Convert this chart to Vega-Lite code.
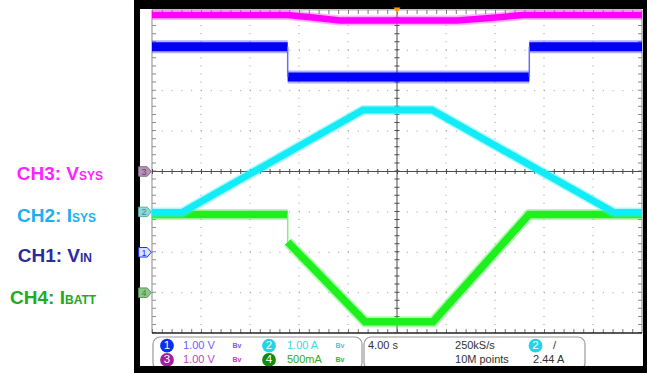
{
  "$schema": "https://vega.github.io/schema/vega-lite/v6.json",
  "width": 647,
  "height": 373,
  "autosize": {"type": "none"},
  "padding": 0,
  "background": "white",
  "config": {"view": {"stroke": null}},
  "datasets": {
    "traces": [
      {"ch": "CH3", "seg": "a", "x": -5, "y": 3.874},
      {"ch": "CH3", "seg": "a", "x": -2.231, "y": 3.874},
      {"ch": "CH3", "seg": "a", "x": -1.714, "y": 3.812},
      {"ch": "CH3", "seg": "a", "x": -1.163, "y": 3.738},
      {"ch": "CH3", "seg": "a", "x": 1.224, "y": 3.738},
      {"ch": "CH3", "seg": "a", "x": 1.898, "y": 3.8},
      {"ch": "CH3", "seg": "a", "x": 2.571, "y": 3.874},
      {"ch": "CH3", "seg": "a", "x": 5, "y": 3.874},
      {"ch": "CH1", "seg": "a", "x": -5, "y": 3.089},
      {"ch": "CH1", "seg": "a", "x": -2.231, "y": 3.089},
      {"ch": "CH1", "seg": "b", "x": -2.231, "y": 2.339},
      {"ch": "CH1", "seg": "b", "x": 2.7, "y": 2.339},
      {"ch": "CH1", "seg": "c", "x": 2.7, "y": 3.089},
      {"ch": "CH1", "seg": "c", "x": 5, "y": 3.089},
      {"ch": "CH4", "seg": "a", "x": -5, "y": -1.064},
      {"ch": "CH4", "seg": "a", "x": -2.231, "y": -1.064},
      {"ch": "CH4", "seg": "b", "x": -2.231, "y": -1.745},
      {"ch": "CH4", "seg": "b", "x": -0.653, "y": -3.718},
      {"ch": "CH4", "seg": "b", "x": 0.735, "y": -3.718},
      {"ch": "CH4", "seg": "b", "x": 2.694, "y": -1.064},
      {"ch": "CH4", "seg": "b", "x": 5, "y": -1.064},
      {"ch": "CH2", "seg": "a", "x": -5, "y": -1.015},
      {"ch": "CH2", "seg": "a", "x": -4.388, "y": -1.015},
      {"ch": "CH2", "seg": "a", "x": -0.694, "y": 1.522},
      {"ch": "CH2", "seg": "a", "x": 0.714, "y": 1.522},
      {"ch": "CH2", "seg": "a", "x": 4.429, "y": -1.015},
      {"ch": "CH2", "seg": "a", "x": 5, "y": -1.015}
    ],
    "steps": [
      {"ch": "CH1", "seg": "s1", "x": -2.231, "y": 3.089},
      {"ch": "CH1", "seg": "s1", "x": -2.231, "y": 2.339},
      {"ch": "CH1", "seg": "s2", "x": 2.7, "y": 2.339},
      {"ch": "CH1", "seg": "s2", "x": 2.7, "y": 3.089},
      {"ch": "CH4", "seg": "s3", "x": -2.231, "y": -1.064},
      {"ch": "CH4", "seg": "s3", "x": -2.231, "y": -1.745}
    ]
  },
  "encoding": {
    "x": {"field": "x", "type": "quantitative", "scale": {"domain": [-8.102, 5.102], "nice": false, "zero": false}, "axis": null},
    "y": {"field": "y", "type": "quantitative", "scale": {"domain": [-4.988, 4.245], "nice": false, "zero": false}, "axis": null}
  },
  "resolve": {"scale": {"color": "independent", "fill": "independent", "stroke": "independent"}},
  "layer": [
    {
      "data": {"values": [
        {"x": -4, "y": -4, "y2": 4}, {"x": -3, "y": -4, "y2": 4}, {"x": -2, "y": -4, "y2": 4}, {"x": -1, "y": -4, "y2": 4},
        {"x": 1, "y": -4, "y2": 4}, {"x": 2, "y": -4, "y2": 4}, {"x": 3, "y": -4, "y2": 4}, {"x": 4, "y": -4, "y2": 4}
      ]},
      "mark": {"type": "rule", "color": "#9a9a9a", "strokeWidth": 1, "strokeDash": [1, 7.08]},
      "encoding": {"y2": {"field": "y2"}}
    },
    {
      "data": {"values": [
        {"y": -3, "x": -5, "x2": 5}, {"y": -2, "x": -5, "x2": 5}, {"y": -1, "x": -5, "x2": 5},
        {"y": 1, "x": -5, "x2": 5}, {"y": 2, "x": -5, "x2": 5}, {"y": 3, "x": -5, "x2": 5}
      ]},
      "mark": {"type": "rule", "color": "#9a9a9a", "strokeWidth": 1, "strokeDash": [1, 8.8]},
      "encoding": {"x2": {"field": "x2"}}
    },
    {
      "data": {"values": [{"x": -5, "y": -4, "y2": 4}, {"x": 5, "y": -4, "y2": 4}]},
      "mark": {"type": "rule", "color": "#8a8a8a", "strokeWidth": 1},
      "encoding": {"y2": {"field": "y2"}}
    },
    {
      "data": {"values": [{"x": -4.959, "y": -4, "y2": 4}, {"x": 4.959, "y": -4, "y2": 4}]},
      "mark": {"type": "rule", "color": "#8a8a8a", "strokeWidth": 4, "strokeDash": [1, 7.08]},
      "encoding": {"y2": {"field": "y2"}}
    },
    {
      "data": {"values": [{"y": 4, "x": -5, "x2": 5}]},
      "mark": {"type": "rule", "color": "#9a9a9a", "strokeWidth": 1},
      "encoding": {"x2": {"field": "x2"}}
    },
    {
      "data": {"values": [{"y": -3.95, "x": -5, "x2": 5}, {"y": 3.95, "x": -5, "x2": 5}]},
      "mark": {"type": "rule", "color": "#777777", "strokeWidth": 4, "strokeDash": [1, 8.8]},
      "encoding": {"x2": {"field": "x2"}}
    },
    {
      "data": {"values": [{"y": -4, "x": -5, "x2": 5}]},
      "mark": {"type": "rule", "color": "#222222", "strokeWidth": 1.5},
      "encoding": {"x2": {"field": "x2"}}
    },
    {
      "data": {"values": [{"x": 0, "y": -4, "y2": 4}]},
      "mark": {"type": "rule", "color": "#4a4a4a", "strokeWidth": 1},
      "encoding": {"y2": {"field": "y2"}}
    },
    {
      "data": {"values": [{"x": 0, "y": -4, "y2": 4}]},
      "mark": {"type": "rule", "color": "#4a4a4a", "strokeWidth": 5, "strokeDash": [1, 7.08]},
      "encoding": {"y2": {"field": "y2"}}
    },
    {
      "data": {"values": [{"y": 0, "x": -5, "x2": 5}]},
      "mark": {"type": "rule", "color": "#4a4a4a", "strokeWidth": 1},
      "encoding": {"x2": {"field": "x2"}}
    },
    {
      "data": {"values": [{"y": 0, "x": -5, "x2": 5}]},
      "mark": {"type": "rule", "color": "#4a4a4a", "strokeWidth": 5, "strokeDash": [1, 8.8]},
      "encoding": {"x2": {"field": "x2"}}
    },
    {
      "data": {"name": "traces"},
      "transform": [{"filter": "datum.ch === 'CH3'"}],
      "mark": {"type": "line", "color": "#ff40ff", "strokeWidth": 10, "opacity": 0.4, "strokeCap": "butt"},
      "encoding": {"detail": {"field": "seg"}, "order": {"value": null}}
    },
    {
      "data": {"name": "traces"},
      "transform": [{"filter": "datum.ch === 'CH3'"}],
      "mark": {"type": "line", "color": "#ff00ff", "strokeWidth": 6.5, "strokeCap": "butt"},
      "encoding": {"detail": {"field": "seg"}, "order": {"value": null}}
    },
    {
      "data": {"name": "traces"},
      "transform": [{"filter": "datum.ch === 'CH1'"}],
      "mark": {"type": "line", "color": "#2020ff", "strokeWidth": 13, "opacity": 0.35, "strokeCap": "butt"},
      "encoding": {"detail": {"field": "seg"}, "order": {"value": null}}
    },
    {
      "data": {"name": "traces"},
      "transform": [{"filter": "datum.ch === 'CH1'"}],
      "mark": {"type": "line", "color": "#0000f6", "strokeWidth": 9, "strokeCap": "butt"},
      "encoding": {"detail": {"field": "seg"}, "order": {"value": null}}
    },
    {
      "data": {"name": "steps"},
      "transform": [{"filter": "datum.ch === 'CH1'"}],
      "mark": {"type": "line", "color": "#6a6aff", "strokeWidth": 1.5, "strokeCap": "butt"},
      "encoding": {"detail": {"field": "seg"}, "order": {"value": null}}
    },
    {
      "data": {"name": "traces"},
      "transform": [{"filter": "datum.ch === 'CH4'"}],
      "mark": {"type": "line", "color": "#40f040", "strokeWidth": 11, "opacity": 0.4, "strokeCap": "butt"},
      "encoding": {"detail": {"field": "seg"}, "order": {"value": null}}
    },
    {
      "data": {"name": "traces"},
      "transform": [{"filter": "datum.ch === 'CH4'"}],
      "mark": {"type": "line", "color": "#1ef01e", "strokeWidth": 7.5, "strokeCap": "butt"},
      "encoding": {"detail": {"field": "seg"}, "order": {"value": null}}
    },
    {
      "data": {"name": "steps"},
      "transform": [{"filter": "datum.ch === 'CH4'"}],
      "mark": {"type": "line", "color": "#80f080", "strokeWidth": 1.5, "strokeCap": "butt"},
      "encoding": {"detail": {"field": "seg"}, "order": {"value": null}}
    },
    {
      "data": {"name": "traces"},
      "transform": [{"filter": "datum.ch === 'CH2'"}],
      "mark": {"type": "line", "color": "#40f0f8", "strokeWidth": 10, "opacity": 0.4, "strokeCap": "butt"},
      "encoding": {"detail": {"field": "seg"}, "order": {"value": null}}
    },
    {
      "data": {"name": "traces"},
      "transform": [{"filter": "datum.ch === 'CH2'"}],
      "mark": {"type": "line", "color": "#12ecf6", "strokeWidth": 7, "strokeCap": "butt"},
      "encoding": {"detail": {"field": "seg"}, "order": {"value": null}}
    },
    {
      "data": {"values": [
        {"x": -4.98, "x2": -0.714, "y": -4.097, "y2": -4.913},
        {"x": -0.673, "x2": 3.837, "y": -4.097, "y2": -4.913}
      ]},
      "mark": {"type": "rect", "fill": "white", "stroke": "#9a9a9a", "strokeWidth": 1.2, "cornerRadius": 7},
      "encoding": {"x2": {"field": "x2"}, "y2": {"field": "y2"}}
    },
    {
      "data": {"values": [
        {"ch": "1", "x": -4.694, "y": -4.312},
        {"ch": "2", "x": -2.612, "y": -4.312},
        {"ch": "3", "x": -4.694, "y": -4.666},
        {"ch": "4", "x": -2.612, "y": -4.666},
        {"ch": "2", "x": 2.827, "y": -4.312}
      ]},
      "layer": [
        {
          "mark": {"type": "point", "shape": "circle", "filled": true, "size": 190, "opacity": 1},
          "encoding": {"color": {"field": "ch", "type": "nominal", "scale": {"domain": ["1", "2", "3", "4"], "range": ["#0c2ef0", "#22d4e6", "#a0209e", "#0e8e0e"]}, "legend": null}}
        },
        {
          "mark": {"type": "text", "color": "white", "fontSize": 11.5, "font": "Liberation Sans", "baseline": "middle", "align": "center", "dy": 0.5},
          "encoding": {"text": {"field": "ch"}}
        }
      ]
    },
    {
      "data": {"values": [
        {"ch": "1", "label": "1.00 V", "x": -4.367, "y": -4.312},
        {"ch": "2", "label": "1.00 A", "x": -2.245, "y": -4.312},
        {"ch": "3", "label": "1.00 V", "x": -4.367, "y": -4.666},
        {"ch": "4", "label": "500mA", "x": -2.245, "y": -4.666}
      ]},
      "mark": {"type": "text", "fontSize": 11, "font": "Liberation Sans", "align": "left", "baseline": "middle"},
      "encoding": {
        "text": {"field": "label"},
        "color": {"field": "ch", "type": "nominal", "scale": {"domain": ["1", "2", "3", "4"], "range": ["#6262ff", "#3cd6e6", "#c23ec6", "#2ea82e"]}, "legend": null}
      }
    },
    {
      "data": {"values": [
        {"ch": "1", "x": -3.265, "y": -4.312},
        {"ch": "2", "x": -1.163, "y": -4.312},
        {"ch": "3", "x": -3.265, "y": -4.666},
        {"ch": "4", "x": -1.163, "y": -4.666}
      ]},
      "mark": {"type": "text", "fontSize": 7, "font": "Liberation Sans", "fontWeight": "bold", "align": "center", "baseline": "middle", "text": "Bv"},
      "encoding": {
        "color": {"field": "ch", "type": "nominal", "scale": {"domain": ["1", "2", "3", "4"], "range": ["#7a5ae0", "#48c8d8", "#c040c0", "#40b040"]}, "legend": null}
      }
    },
    {
      "data": {"values": [
        {"label": "4.00 s", "x": -0.592, "y": -4.312},
        {"label": "250kS/s", "x": 1.184, "y": -4.312},
        {"label": "10M points", "x": 1.184, "y": -4.666},
        {"label": "2.44 A", "x": 2.776, "y": -4.666},
        {"label": "/", "x": 3.184, "y": -4.312}
      ]},
      "mark": {"type": "text", "fontSize": 11, "font": "Liberation Sans", "align": "left", "baseline": "middle", "color": "#333333"},
      "encoding": {"text": {"field": "label"}}
    },
    {
      "data": {"values": [
        {"x": -5.367, "x2": -5.245, "y": -4.988, "y2": 4.245},
        {"x": -5.367, "x2": 5.102, "y": 4.022, "y2": 4.245},
        {"x": 5.02, "x2": 5.102, "y": -4.988, "y2": 4.245},
        {"x": -5.367, "x2": 5.102, "y": -4.988, "y2": -4.814}
      ]},
      "mark": {"type": "rect", "fill": "black"},
      "encoding": {"x2": {"field": "x2"}, "y2": {"field": "y2"}}
    },
    {
      "data": {"values": [
        {"ch": "3", "x": -5.143, "y": 0},
        {"ch": "2", "x": -5.143, "y": -1},
        {"ch": "1", "x": -5.143, "y": -2},
        {"ch": "4", "x": -5.143, "y": -3}
      ]},
      "layer": [
        {
          "mark": {"type": "point", "shape": "M-1,-0.75L0.35,-0.75L1,0L0.35,0.75L-1,0.75Z", "filled": true, "size": 160, "strokeWidth": 1, "opacity": 1},
          "encoding": {
            "fill": {"field": "ch", "type": "nominal", "scale": {"domain": ["1", "2", "3", "4"], "range": ["#dfe3ff", "#8cd8d8", "#b892b8", "#8cc88c"]}, "legend": null},
            "stroke": {"field": "ch", "type": "nominal", "scale": {"domain": ["1", "2", "3", "4"], "range": ["#1830ff", "#5ab0b0", "#8a6a8a", "#5a9a5a"]}, "legend": null}
          }
        },
        {
          "mark": {"type": "text", "fontSize": 9, "font": "Liberation Sans", "align": "center", "baseline": "middle", "dx": -1, "dy": 0.5},
          "encoding": {
            "text": {"field": "ch"},
            "color": {"field": "ch", "type": "nominal", "scale": {"domain": ["1", "2", "3", "4"], "range": ["#1830ff", "#4a8a8a", "#5a4a5a", "#4a7a4a"]}, "legend": null}
          }
        }
      ]
    },
    {
      "data": {"values": [{"x": 0, "y": 3.985}]},
      "mark": {"type": "point", "shape": "triangle-down", "filled": true, "size": 45, "color": "#ff9a00", "opacity": 1}
    },
    {
      "data": {"values": [
        {"ch": "CH3", "main": "CH3: V", "sub": "SYS", "x": -6.49, "y": -0.21},
        {"ch": "CH2", "main": "CH2: I", "sub": "SYS", "x": -6.633, "y": -1.243},
        {"ch": "CH1", "main": "CH1: V", "sub": "IN", "x": -6.469, "y": -2.233},
        {"ch": "CH4", "main": "CH4: I", "sub": "BATT", "x": -6.776, "y": -3.28}
      ]},
      "layer": [
        {
          "mark": {"type": "text", "fontSize": 19, "font": "Liberation Sans", "fontWeight": "bold", "align": "right", "baseline": "alphabetic"},
          "encoding": {
            "text": {"field": "main"},
            "color": {"field": "ch", "type": "nominal", "scale": {"domain": ["CH3", "CH2", "CH1", "CH4"], "range": ["#ff22ff", "#1eaef0", "#2b2b9b", "#22aa22"]}, "legend": null}
          }
        },
        {
          "mark": {"type": "text", "fontSize": 12, "font": "Liberation Sans", "fontWeight": "bold", "align": "left", "baseline": "alphabetic"},
          "encoding": {
            "text": {"field": "sub"},
            "color": {"field": "ch", "type": "nominal", "scale": {"domain": ["CH3", "CH2", "CH1", "CH4"], "range": ["#ff22ff", "#1eaef0", "#2b2b9b", "#22aa22"]}, "legend": null}
          }
        }
      ]
    }
  ]
}
